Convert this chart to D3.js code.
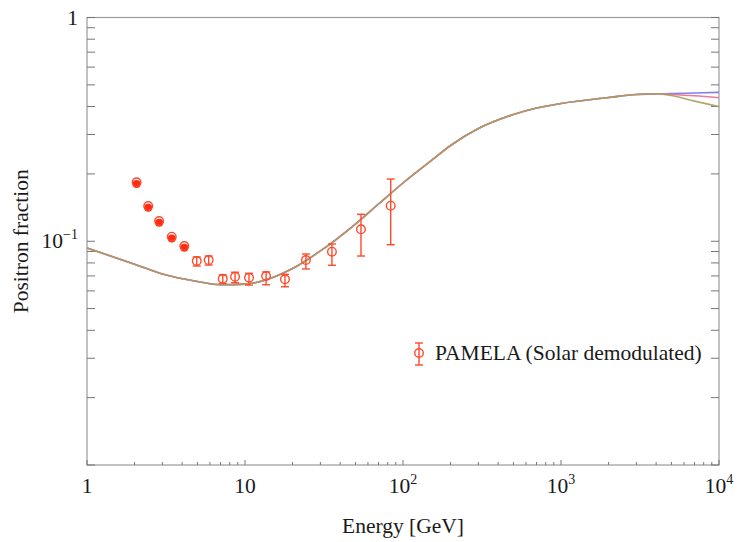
<!DOCTYPE html>
<html>
<head>
<meta charset="utf-8">
<script src="https://cdn.jsdelivr.net/npm/d3@7"></script>
<style>
  body { margin: 0; background: #fff; }
  text { font-family: "Liberation Serif", "DejaVu Serif", serif; fill: #1a1a1a; }
</style>
</head>
<body>
<svg id="chart" width="737" height="542"></svg>
<script>
// PAMELA points (energy in GeV, positron fraction)
const pamelaEnergy = [2.06, 2.44, 2.86, 3.44, 4.13, 4.95, 5.89, 7.23, 8.65, 10.6, 13.6, 17.9, 24.3, 35.5, 54.2, 83.6];
const pamelaFraction = [0.1834, 0.1437, 0.1232, 0.1048, 0.0952, 0.0816, 0.0824, 0.0680, 0.0694, 0.0687, 0.0699, 0.0676, 0.0824, 0.0898, 0.1131, 0.1442];
const pamelaHigh = [null, null, null, null, null, 0.0851, 0.0859, 0.0707, 0.0727, 0.0719, 0.0729, 0.0712, 0.0877, 0.0972, 0.1320, 0.1897];
const pamelaLow = [null, null, null, null, null, 0.0775, 0.0783, 0.0649, 0.0653, 0.0637, 0.0639, 0.0626, 0.0752, 0.0781, 0.0859, 0.0965];

// model curves
const curveEnergy = [1, 2, 3, 5, 7, 10, 15, 20, 30, 50, 70, 100, 150, 200, 300, 500, 700, 1000, 2000, 3000, 4000, 5000, 7000, 10000];
const blueFraction = [0.0933, 0.0790, 0.0714, 0.0661, 0.0639, 0.0643, 0.0689, 0.0755, 0.0905, 0.1194, 0.1467, 0.1821, 0.2284, 0.2679, 0.3190, 0.3685, 0.3939, 0.4126, 0.4389, 0.4527, 0.4560, 0.4570, 0.4600, 0.4630];
const pinkFraction = [0.0933, 0.0790, 0.0714, 0.0661, 0.0639, 0.0643, 0.0689, 0.0755, 0.0905, 0.1194, 0.1467, 0.1821, 0.2284, 0.2679, 0.3190, 0.3685, 0.3939, 0.4126, 0.4389, 0.4527, 0.4560, 0.4530, 0.4470, 0.4380];
const oliveFraction = [0.0933, 0.0790, 0.0714, 0.0661, 0.0639, 0.0643, 0.0689, 0.0755, 0.0905, 0.1194, 0.1467, 0.1821, 0.2284, 0.2679, 0.3190, 0.3685, 0.3939, 0.4126, 0.4389, 0.4527, 0.4560, 0.4480, 0.4230, 0.4000];

const xLabels = [["1", ""], ["10", ""], ["10", "2"], ["10", "3"], ["10", "4"]];
const xLabelValues = [1, 10, 100, 1000, 10000];
const yLabels = [["1", ""], ["10", "\u22121"]];
const yLabelValues = [1, 0.1];

const mLeft = 87, mRight = 719, mTop = 17.5, mBottom = 465;
const red = "#ff4a2a";
const fs = 21.5;

const svg = d3.select("#chart");

const x = d3.scaleLog().domain([1, 1e4]).range([mLeft, mRight]);
const y = d3.scaleLog().domain([0.01, 1]).range([mBottom, mTop]);

// frame
svg.append("rect")
    .attr("x", mLeft).attr("y", mTop)
    .attr("width", mRight - mLeft).attr("height", mBottom - mTop)
    .attr("fill", "none").attr("stroke", "#999").attr("stroke-width", 1.2);

// x ticks (inward)
const xTicks = x.ticks();
svg.append("g").selectAll("line")
    .data(xTicks)
    .join("line")
    .attr("x1", d => x(d)).attr("x2", d => x(d))
    .attr("y1", mBottom)
    .attr("y2", d => xLabelValues.includes(d) ? mBottom - 5 : mBottom - 3)
    .attr("stroke", "#777").attr("stroke-width", 1);

// y ticks both sides
const yTicks = y.ticks();
const yt = svg.append("g");
yt.selectAll(".l").data(yTicks).join("line").attr("class", "l")
    .attr("x1", mLeft).attr("x2", mLeft + 8)
    .attr("y1", d => y(d)).attr("y2", d => y(d))
    .attr("stroke", "#777");
yt.selectAll(".r").data(yTicks).join("line").attr("class", "r")
    .attr("x1", mRight).attr("x2", mRight - 8)
    .attr("y1", d => y(d)).attr("y2", d => y(d))
    .attr("stroke", "#777");

// tick labels
const xl = svg.append("g").selectAll("text")
    .data(xLabelValues)
    .join("text")
    .attr("x", d => x(d))
    .attr("y", 493)
    .attr("text-anchor", "middle")
    .attr("font-size", fs);
xl.append("tspan").text((d, i) => xLabels[i][0]);
xl.append("tspan").attr("font-size", 14).attr("dy", -9).text((d, i) => xLabels[i][1]);

const yl = svg.append("g").selectAll("text")
    .data(yLabelValues)
    .join("text")
    .attr("x", 78)
    .attr("y", d => y(d) + 7)
    .attr("text-anchor", "end")
    .attr("font-size", fs);
yl.append("tspan").text((d, i) => yLabels[i][0]);
yl.append("tspan").attr("font-size", 14).attr("dy", -9).text((d, i) => yLabels[i][1]);

// axis titles
svg.append("text")
    .attr("x", (mLeft + mRight) / 2).attr("y", 533)
    .attr("text-anchor", "middle").attr("font-size", fs)
    .text("Energy [GeV]");
svg.append("text")
    .attr("transform", `translate(28, ${(mTop + mBottom) / 2}) rotate(-90)`)
    .attr("text-anchor", "middle").attr("font-size", fs)
    .text("Positron fraction");

// curves
const line = d3.line()
    .x(d => x(d[0]))
    .y(d => y(d[1]))
    .curve(d3.curveMonotoneX);

const plot = svg.append("g");
[[blueFraction, "#8282e6", 1], [pinkFraction, "#e67aa0", 1], [oliveFraction, "#a89c58", 0.88]].forEach(([vals, col, op]) => {
    plot.append("path")
        .datum(curveEnergy.map((e, i) => [e, vals[i]]))
        .attr("fill", "none")
        .attr("stroke", col)
        .attr("stroke-opacity", op)
        .attr("stroke-width", 1.6)
        .attr("d", line);
});

// PAMELA points
const pts = pamelaEnergy.map((e, i) => ({ e, f: pamelaFraction[i], hi: pamelaHigh[i], lo: pamelaLow[i] }));
const withErr = pts.filter(d => d.hi !== null);
const noErr = pts.filter(d => d.hi === null);

const eb = plot.append("g").attr("stroke", red).attr("stroke-width", 1.4);
eb.selectAll(".v").data(withErr).join("line").attr("class", "v")
    .attr("x1", d => x(d.e)).attr("x2", d => x(d.e))
    .attr("y1", d => y(d.hi)).attr("y2", d => y(d.lo));
eb.selectAll(".t").data(withErr).join("line").attr("class", "t")
    .attr("x1", d => x(d.e) - 4).attr("x2", d => x(d.e) + 4)
    .attr("y1", d => y(d.hi)).attr("y2", d => y(d.hi));
eb.selectAll(".b").data(withErr).join("line").attr("class", "b")
    .attr("x1", d => x(d.e) - 4).attr("x2", d => x(d.e) + 4)
    .attr("y1", d => y(d.lo)).attr("y2", d => y(d.lo));

plot.append("g").selectAll("circle")
    .data(withErr)
    .join("circle")
    .attr("cx", d => x(d.e)).attr("cy", d => y(d.f)).attr("r", 4.3)
    .attr("fill", "none").attr("stroke", red).attr("stroke-width", 1.4);

// low-energy points: filled dot under open ring
plot.append("g").selectAll("circle")
    .data(noErr)
    .join("circle")
    .attr("cx", d => x(d.e)).attr("cy", d => y(d.f) + 1.8).attr("r", 4)
    .attr("fill", "#ff2a12");
plot.append("g").selectAll("circle")
    .data(noErr)
    .join("circle")
    .attr("cx", d => x(d.e)).attr("cy", d => y(d.f)).attr("r", 4.3)
    .attr("fill", "none").attr("stroke", red).attr("stroke-width", 1.4);

// legend
const lg = svg.append("g").attr("transform", "translate(419, 353)");
lg.append("line").attr("x1", 0).attr("x2", 0).attr("y1", -10).attr("y2", 12).attr("stroke", red).attr("stroke-width", 1.4);
lg.append("line").attr("x1", -4).attr("x2", 4).attr("y1", -10).attr("y2", -10).attr("stroke", red).attr("stroke-width", 1.4);
lg.append("line").attr("x1", -4).attr("x2", 4).attr("y1", 12).attr("y2", 12).attr("stroke", red).attr("stroke-width", 1.4);
lg.append("circle").attr("r", 4.3).attr("fill", "none").attr("stroke", red).attr("stroke-width", 1.4);
lg.append("text").attr("x", 16).attr("y", 7).attr("font-size", fs).text("PAMELA (Solar demodulated)");
</script>
</body>
</html>
